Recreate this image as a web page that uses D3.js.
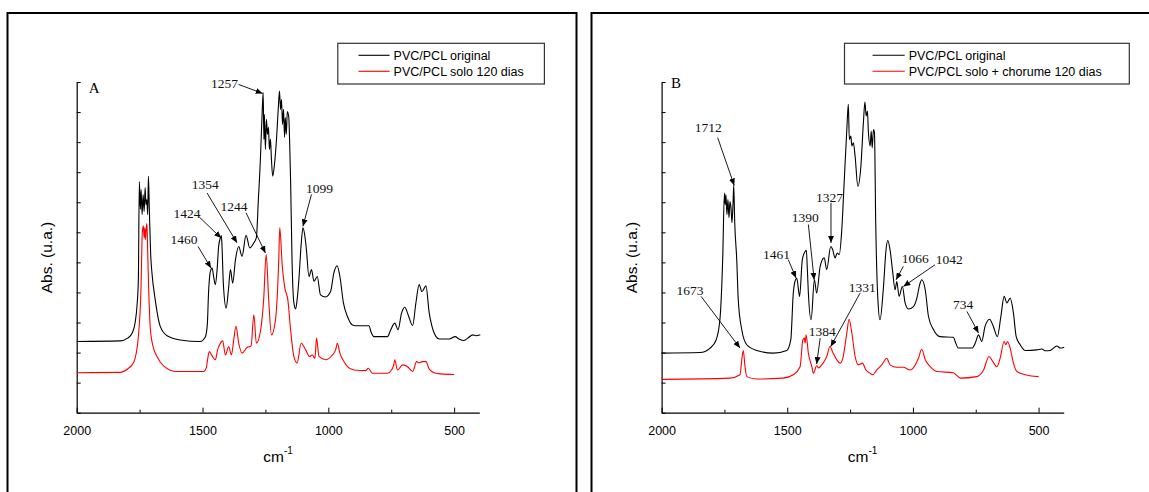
<!DOCTYPE html>
<html><head><meta charset="utf-8">
<script src="https://cdn.jsdelivr.net/npm/d3@7"></script>
<style>body{margin:0;background:#fff;overflow:hidden}</style>
</head><body>
<svg id="c" width="1149" height="492"></svg>
<script>
// ---------- DATA ----------
const xMajorTicks = [2000, 1500, 1000, 500];
const xMinorTicks = [1750, 1250, 750];
const yTickValues = [0,1,2,3,4,5,6,7,8,9,10,11];
const xDomain = [2000, 400];
const yDomain = [0, 11];

const seriesNamesA = ["PVC/PCL original", "PVC/PCL solo 120 dias"];
const seriesNamesB = ["PVC/PCL original", "PVC/PCL solo + chorume 120 dias"];

// [wavenumber cm-1, absorbance (a.u.)]
const aBlack = [[2000,2.37],[1828,2.39],[1796,2.49],[1779,2.66],[1768,2.99],[1760,3.59],[1755,4.42],[1751,7.69],[1747,6.76],[1744,7.42],[1740,6.59],[1736,7.26],[1732,6.69],[1728,7.49],[1725,6.92],[1721,7.09],[1718,6.59],[1715,7.86],[1711,6.66],[1706,5.26],[1701,4.66],[1688,3.76],[1668,2.87],[1641,2.56],[1588,2.42],[1509,2.37],[1489,2.52],[1481,2.92],[1476,3.99],[1469,4.69],[1462,4.81],[1455,4.49],[1449,4.26],[1442,4.76],[1436,5.53],[1429,5.81],[1425,5.89],[1422,5.42],[1417,4.26],[1406,3.48],[1397,4.09],[1389,4.76],[1380,4.31],[1369,5.09],[1356,5.53],[1343,5.2],[1327,5.9],[1312,5.48],[1296,5.65],[1286,5.82],[1278,7.09],[1270,8.42],[1264,9.76],[1259,10.65],[1256,9.09],[1254,9.92],[1250,8.76],[1246,9.76],[1242,9.26],[1238,9.49],[1234,8.76],[1230,9.09],[1226,8.42],[1221,7.87],[1214,8.26],[1206,9.09],[1198,10.26],[1194,10.7],[1190,10.09],[1186,10.42],[1182,9.59],[1178,10.09],[1174,9.16],[1171,9.82],[1167,9.26],[1163,10.02],[1157,9.82],[1154,9.09],[1150,7.76],[1144,4.99],[1137,3.66],[1130,3.45],[1124,3.76],[1117,4.42],[1108,5.59],[1101,6.15],[1094,5.92],[1087,5.42],[1077,4.53],[1067,4.76],[1057,4.37],[1044,4.53],[1031,3.92],[1011,3.85],[991,4.03],[978,4.65],[965,4.89],[954,4.53],[940,3.65],[924,3.2],[904,2.92],[884,2.89],[838,2.89],[831,2.7],[818,2.53],[765,2.53],[752,2.76],[736,2.98],[723,2.76],[709,3.31],[696,3.51],[683,3.26],[665,2.9],[652,3.65],[639,4.26],[628,4.03],[612,4.22],[599,3.31],[588,2.87],[572,2.53],[559,2.45],[519,2.45],[496,2.53],[480,2.45],[462,2.4],[446,2.48],[426,2.59],[413,2.56],[396,2.59]];

const aRed = [[2000,1.33],[1828,1.34],[1794,1.48],[1780,1.59],[1768,1.81],[1755,2.53],[1745,3.98],[1739,6.03],[1735,6.22],[1732,5.82],[1729,6.16],[1727,5.76],[1724,6.09],[1721,6.29],[1719,5.76],[1715,4.42],[1708,2.87],[1702,2.42],[1695,2.15],[1681,1.87],[1655,1.56],[1602,1.37],[1496,1.37],[1485,1.49],[1480,1.76],[1473,2.03],[1462,1.89],[1449,1.76],[1440,2.09],[1432,2.26],[1420,2.39],[1409,1.92],[1396,2.2],[1385,1.92],[1376,2.42],[1367,2.87],[1356,2.31],[1343,1.98],[1323,2.17],[1307,2.22],[1296,3.26],[1286,2.31],[1270,2.7],[1257,3.76],[1247,5.26],[1237,3.76],[1226,2.59],[1210,3.09],[1197,5.09],[1193,6.15],[1183,4.87],[1173,4.15],[1161,3.76],[1150,2.76],[1137,1.87],[1124,1.65],[1108,2.31],[1090,2.09],[1075,1.87],[1064,1.92],[1053,1.81],[1047,2.48],[1037,1.87],[1011,1.76],[984,1.92],[971,2.09],[964,2.31],[954,1.98],[938,1.7],[924,1.53],[898,1.42],[851,1.4],[841,1.48],[825,1.31],[765,1.31],[749,1.42],[740,1.59],[736,1.76],[725,1.42],[705,1.59],[685,1.53],[665,1.37],[649,1.7],[639,1.66],[628,1.7],[612,1.7],[599,1.45],[579,1.33],[553,1.29],[500,1.27]];

const bBlack = [[2000,1.98],[1847,2.0],[1807,2.15],[1783,2.42],[1768,3.09],[1757,5.09],[1750,7.31],[1747,6.92],[1744,7.26],[1740,6.59],[1736,7.09],[1732,6.49],[1728,7.02],[1724,6.82],[1720,6.32],[1716,6.92],[1713,7.56],[1709,6.32],[1701,5.09],[1695,3.76],[1681,2.76],[1661,2.26],[1621,2.07],[1555,1.98],[1502,2.07],[1486,2.42],[1476,3.98],[1467,4.42],[1462,4.47],[1451,3.87],[1440,5.09],[1429,5.36],[1424,5.4],[1420,4.76],[1416,3.98],[1405,3.09],[1392,4.42],[1383,3.98],[1369,4.87],[1353,5.15],[1343,4.76],[1327,5.53],[1319,5.42],[1310,5.15],[1301,5.31],[1293,5.26],[1283,6.09],[1273,7.76],[1263,9.42],[1257,10.26],[1253,9.09],[1247,9.2],[1243,8.87],[1237,8.98],[1230,8.53],[1219,7.53],[1207,8.2],[1197,9.65],[1191,10.33],[1186,9.87],[1181,10.03],[1177,9.31],[1170,8.87],[1166,9.37],[1162,8.81],[1157,9.42],[1153,9.31],[1148,6.31],[1140,3.87],[1131,3.09],[1117,4.2],[1107,5.42],[1100,5.73],[1091,5.42],[1080,4.65],[1071,4.09],[1064,4.36],[1055,3.87],[1042,4.2],[1031,3.65],[1018,3.45],[998,3.53],[984,3.82],[973,4.26],[965,4.42],[951,4.09],[938,3.2],[918,2.76],[892,2.53],[839,2.51],[832,2.37],[819,2.15],[765,2.15],[752,2.31],[739,2.59],[726,2.37],[713,2.87],[695,3.11],[680,2.87],[664,2.53],[650,3.2],[637,3.87],[626,3.65],[613,3.81],[600,3.31],[589,2.53],[573,2.26],[553,2.07],[507,2.09],[487,2.12],[474,2.06],[454,2.07],[427,2.22],[414,2.15],[398,2.18]];

const bRed = [[2000,1.11],[1728,1.15],[1688,1.26],[1681,1.76],[1675,2.07],[1668,1.53],[1661,1.2],[1621,1.12],[1516,1.15],[1476,1.26],[1449,1.53],[1438,2.42],[1432,2.48],[1429,2.31],[1425,2.59],[1416,1.98],[1402,1.53],[1396,1.31],[1383,1.56],[1375,1.49],[1363,1.59],[1353,1.7],[1343,1.87],[1330,2.2],[1320,2.03],[1303,1.76],[1290,1.65],[1279,1.81],[1263,2.65],[1254,3.11],[1243,2.65],[1230,1.87],[1217,1.59],[1201,1.65],[1187,1.42],[1170,1.31],[1160,1.26],[1144,1.42],[1124,1.59],[1104,1.81],[1091,1.59],[1064,1.51],[1038,1.51],[1011,1.42],[978,1.81],[965,2.11],[951,1.76],[931,1.53],[905,1.37],[839,1.33],[828,1.26],[812,1.15],[746,1.2],[719,1.42],[697,1.87],[682,1.7],[666,1.53],[653,1.81],[637,2.37],[630,2.26],[624,2.37],[613,2.15],[600,1.65],[586,1.37],[560,1.28],[500,1.2]];

// annotations: label, label position [wn, abs], arrow from [wn, abs] to [wn, abs]
const aNotes = [
  ["1257", [1413,10.95], [1357,10.92], [1261,10.62]],
  ["1354", [1489,7.59], [1482,7.31], [1363,5.65]],
  ["1424", [1562,6.65], [1513,6.51], [1426,5.81]],
  ["1460", [1574,5.78], [1518,5.53], [1466,4.81]],
  ["1244", [1375,6.87], [1327,6.65], [1250,5.31]],
  ["1099", [1035,7.48], [1067,7.26], [1101,6.2]]
];
const bNotes = [
  ["1712", [1814,9.48], [1777,9.15], [1711,7.56]],
  ["1673", [1887,4.06], [1843,3.87], [1688,2.15]],
  ["1461", [1543,5.28], [1496,5.09], [1465,4.48]],
  ["1390", [1428,6.5], [1416,6.26], [1393,4.42]],
  ["1327", [1332,7.17], [1326,6.98], [1326,5.65]],
  ["1384", [1361,2.7], [1369,2.48], [1383,1.62]],
  ["1331", [1202,4.17], [1210,3.98], [1327,2.2]],
  ["1066", [991,5.12], [1038,4.87], [1067,4.42]],
  ["1042", [855,5.09], [912,4.92], [1038,4.2]],
  ["734", [800,3.59], [785,3.37], [739,2.65]]
];
const panelLetters = [["A", [1931,10.82]], ["B", [1943,10.99]]];

// ---------- DRAWING ----------
const svg = d3.select("#c");
svg.append("rect").attr("width",1149).attr("height",492).attr("fill","#fff");

const defs = svg.append("defs");
defs.append("marker").attr("id","arrow")
  .attr("markerUnits","userSpaceOnUse")
  .attr("markerWidth",8).attr("markerHeight",6)
  .attr("refX",7).attr("refY",3).attr("orient","auto")
  .append("path").attr("d","M0,0 L7,3 L0,6 Z").attr("fill","#000");

const SANS = "'Liberation Sans', Arial, sans-serif";
const SERIF = "'Liberation Serif', 'Times New Roman', serif";

function panel(cfg) {
  const g = svg.append("g");
  g.append("rect").attr("x",cfg.frame[0]).attr("y",cfg.frame[1])
    .attr("width",cfg.frame[2]).attr("height",cfg.frame[3])
    .attr("fill","none").attr("stroke","#000").attr("stroke-width",2);

  const x = d3.scaleLinear().domain(xDomain).range([cfg.left, cfg.right]);
  const y = d3.scaleLinear().domain(yDomain).range([cfg.bottom, cfg.top]);

  const xa = g.append("g").attr("transform",`translate(0,${cfg.bottom})`)
    .call(d3.axisBottom(x).tickValues(xMajorTicks).tickSizeInner(-5).tickSizeOuter(0)
      .tickPadding(13).tickFormat(d3.format("d")));
  xa.selectAll("text").attr("font-family",SANS).attr("font-size","12.5px").attr("fill","#000");
  xa.select(".domain").attr("stroke","#000").attr("stroke-width",1.2);
  const xm = g.append("g").attr("transform",`translate(0,${cfg.bottom})`)
    .call(d3.axisBottom(x).tickValues(xMinorTicks).tickSizeInner(-3).tickSizeOuter(0).tickFormat(""));
  xm.select(".domain").remove();

  const ya = g.append("g").attr("transform",`translate(${cfg.left},0)`)
    .call(d3.axisLeft(y).tickValues(yTickValues).tickSizeInner(-4).tickSizeOuter(0).tickFormat(""));
  ya.select(".domain").attr("stroke","#000").attr("stroke-width",1.2);

  const line = d3.line().x(d => x(d[0])).y(d => y(d[1])).curve(d3.curveMonotoneX);
  g.append("path").datum(cfg.black).attr("d",line).attr("fill","none")
    .attr("stroke","#000").attr("stroke-width",1.1);
  g.append("path").datum(cfg.red).attr("d",line).attr("fill","none")
    .attr("stroke","#ff0000").attr("stroke-width",1.1);

  cfg.notes.forEach(n => {
    g.append("line").attr("x1",x(n[2][0])).attr("y1",y(n[2][1]))
      .attr("x2",x(n[3][0])).attr("y2",y(n[3][1]))
      .attr("stroke","#000").attr("stroke-width",0.9).attr("marker-end","url(#arrow)");
    g.append("text").attr("x",x(n[1][0])).attr("y",y(n[1][1])).attr("dy","0.35em")
      .attr("text-anchor","middle").attr("font-family",SERIF).attr("font-size","13.5px")
      .attr("fill","#111").text(n[0]);
  });
  g.append("text").attr("x",x(cfg.letter[1][0])).attr("y",y(cfg.letter[1][1])).attr("dy","0.35em")
    .attr("text-anchor","middle").attr("font-family",SERIF).attr("font-size","15px").text(cfg.letter[0]);

  const xt = g.append("text").attr("x",(cfg.left+cfg.right)/2).attr("y",461.5)
    .attr("text-anchor","middle").attr("font-family",SANS).attr("font-size","15.5px");
  xt.append("tspan").text("cm");
  xt.append("tspan").attr("font-size","10px").attr("dy",-8).text("-1");
  g.append("text").attr("transform",`translate(${cfg.left-25},257.5) rotate(-90)`)
    .attr("text-anchor","middle").attr("font-family",SANS).attr("font-size","15.5px").text("Abs. (u.a.)");

  const L = cfg.legend;
  g.append("rect").attr("x",L.x).attr("y",L.y).attr("width",L.w).attr("height",L.h)
    .attr("fill","#fff").attr("stroke","#333").attr("stroke-width",1.2);
  const colors = ["#000","#ff0000"];
  cfg.names.forEach((nm,i) => {
    const yy = L.y + 12 + i*16;
    g.append("line").attr("x1",L.lx1).attr("x2",L.lx2).attr("y1",yy).attr("y2",yy)
      .attr("stroke",colors[i]).attr("stroke-width",1.1);
    g.append("text").attr("x",L.lx2+4).attr("y",yy).attr("dy","0.35em")
      .attr("font-family",SANS).attr("font-size","12.5px").attr("fill","#000").text(nm);
  });
}

panel({frame:[7.5,13,569,500], left:76.7, right:479.3, top:82, bottom:412.7,
  black:aBlack, red:aRed, notes:aNotes, letter:panelLetters[0], names:seriesNamesA,
  legend:{x:337.8, y:43.3, w:206.6, h:40.7, lx1:358.5, lx2:389.6}});
panel({frame:[591.5,13,600,500], left:661.6, right:1063.7, top:82, bottom:412.7,
  black:bBlack, red:bRed, notes:bNotes, letter:panelLetters[1], names:seriesNamesB,
  legend:{x:844.5, y:43.3, w:284.8, h:40.7, lx1:872.5, lx2:904.7}});
</script>
</body></html>
